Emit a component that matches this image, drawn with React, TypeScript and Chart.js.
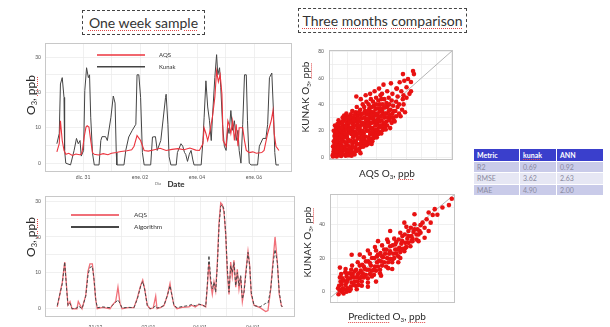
import React, { useEffect, useRef } from "react";
import { Chart, registerables } from "chart.js";
Chart.register(...registerables);

// ---------------- data ----------------
const weekTickHours = [0, 48, 96, 144];
const weekTickLabels = ["dic. 31", "ene. 02", "ene. 04", "ene. 06"];
const algoTickHours = [10, 54, 97, 141];
const algoTickLabels = ["31/12", "02/01", "04/01", "06/01"];
const o3Ticks = [0, 10, 20, 30];
const scatterTopTicks = [0, 20, 40, 60, 80];
const scatterBottomTicks = [0, 20, 40];
const identityLine = [-10, 100];

// one week sample: Kunak (black)
const kunakHours = [-22, -20, -19, -17.5, -16, -15.5, -14.5, -10.5, -7.5, -5.5, -4, -2.5, -1.5, 0.5, 1.5, 3, 4.5, 5.5, 6.5, 8, 9.5, 13.5, 15, 16, 19, 20.5, 23.5, 25.5, 27, 28, 28.5, 34.5, 36, 38.5, 41.5, 44.5, 45.5, 47, 48.5, 50, 51.5, 57, 58.5, 61, 62.5, 65.5, 69.5, 70, 71.5, 72.5, 74, 78.5, 79.5, 82.5, 84, 85.5, 86.5, 88, 89.5, 91, 92.5, 93.5, 99.5, 101, 102, 103.5, 105, 106.5, 108, 109, 111, 112.5, 113.5, 115, 116, 117.5, 119, 120.5, 122, 123, 124.5, 126, 127.5, 129, 130.5, 131.5, 133, 134.5, 136, 137.5, 138.5, 140, 141.5, 147, 148.5, 151.5, 154, 155.5, 157, 159, 160.5, 161.5, 162.5, 165];
const kunakO3 = [5.5, 8.4, 22.4, 24.2, 18.6, 3.6, 0, -0.5, 3.6, 7, 5.5, 6.4, 2, 3.6, 20.5, 27, 24.2, 25, 13, 2.8, -0.5, -0.5, 6.4, 7.5, 7.5, 6.4, 13, 19, 17, 3, -0.5, -0.5, 3.6, 7.4, 9.3, 11, 25, 25, 18.6, 3, -0.5, -0.5, 7.4, 7.5, 3.6, 6.4, 18.6, 19.5, 11, 1.8, -0.5, -0.5, 3, 5.5, 4.8, 3, 2.5, 0.5, 2.5, 3.6, 0.9, -0.5, -0.5, 6.4, 13, 23.3, 15.9, 12, 6.4, 13, 24.2, 30.7, 25, 27, 21.5, 11, 4.8, 3.6, 10, 8.4, 14.9, 9.3, 12, 6.4, 9.3, 3.6, 0, 11, 25, 25, 12, 0, -0.5, -0.5, 4.8, 7, 7, 11, 24.2, 25.5, 13.7, 3, -0.5, -0.5];

// one week sample: AQS (red)
const aqsWeekHours = [-22, -20, -19, -17.5, -16, -14.5, -12, -9, -6, -3, -1.5, -0.5, 1, 2.5, 3.5, 5, 6.5, 8, 9.5, 13, 17, 21, 24, 28, 32, 37, 41, 43, 45.5, 48.5, 51.5, 55, 60, 65, 70, 75, 80, 85, 90, 95, 98, 101, 102, 103.5, 105, 106.5, 109, 111, 112.5, 114, 115.5, 117, 118, 120.5, 122, 123, 124.5, 126, 127.5, 129, 130.5, 131.5, 134.5, 136, 137.5, 140, 143, 146, 150.5, 152.5, 155.5, 158.5, 160, 161, 162.5, 165];
const aqsWeekO3 = [3.2, 5.5, 12, 6.4, 3.6, 2.5, 2.8, 2.2, 2.6, 2.4, 2.5, 3.6, 7.4, 10.2, 10.6, 10.2, 6.4, 3, 2.5, 2.3, 2.7, 2.4, 2.8, 3.0, 3.3, 3.5, 3.8, 4.8, 7.8, 6.4, 3.6, 3.4, 3.8, 4.2, 3.6, 3.9, 4.1, 3.8, 4.3, 3.7, 3.6, 5.5, 10, 8.4, 6.4, 8.4, 13, 18.6, 26, 23, 25, 19.5, 6.4, 4.8, 12, 11, 8.4, 12, 6.4, 11, 4.8, 10, 10, 6.4, 3.6, 3, 3.2, 2.8, 3, 3.6, 8.4, 12, 14.9, 8.4, 4.8, 3.6];

// algorithm comparison (shared hours)
const algoHours = [-21.8, -17.6, -15.6, -13.9, -12.9, -11.2, -9.5, -5.4, -4.3, -1.2, 1.9, 3.8, 5.4, 7.4, 8.8, 10.2, 11.5, 16, 22.1, 24, 26.8, 28.7, 30.4, 32.1, 37, 42, 44.8, 47.6, 49.3, 50.9, 53.1, 55.4, 58, 60.1, 61.2, 64, 67, 69.8, 72, 73.1, 75.3, 77.8, 82, 87.8, 90, 93, 96, 99, 101.7, 103, 104.4, 105.9, 107.2, 108.6, 110, 111.4, 112.8, 114.2, 115.5, 116.9, 118.3, 119.7, 121.1, 122.5, 123.8, 125.2, 126.7, 128, 129.4, 130.8, 132.2, 133.6, 135, 136.9, 138.3, 139.6, 141.9, 146.9, 151.6, 153.5, 155.8, 157.9, 159.4, 161.3, 162.9, 164.6, 165.4];
const aqsAlgoO3 = [0.5, 7.4, 13, 5.5, 1, 2, 0, 0, 2, 0, 3.7, 10.5, 12.5, 12.5, 8, 2.5, 0, 0.4, 0, 1, 2, 6, 1.5, 0, 0.3, 0.3, 3, 6.5, 8, 5.5, 1, 0, 0.2, 3.5, 0, 0.3, 0.9, 3.7, 7, 4.6, 0.9, 0, 0.4, 0.5, 1, 0.5, 1.2, 1, 0.5, 6, 13, 7, 4, 7.5, 5, 13, 24, 29.5, 29, 27, 21, 10, 4, 13, 9, 13.5, 6, 11, 5.5, 9, 2, 5, 10, 16, 12, 4, 1, 0.3, -0.8, -0.5, 5.5, 14, 20, 13, 4, 1, 0.5];
const algorithmO3 = [0.9, 7, 13, 5, 0.9, 1.5, 0, 0.2, 0.8, 0, 3.5, 9.5, 11.5, 11.8, 8.2, 2.6, 0.3, 0.5, 0.3, 0.9, 1.8, 2.5, 1.5, 0.2, 0.4, 0.3, 2.7, 6.3, 7.6, 5.5, 0.9, 0, 0.3, 0.8, 0.2, 0.4, 0.9, 3.7, 6.4, 4.6, 0.9, 0.3, 0.6, 0.9, 1.2, 0.8, 1.3, 1, 0.6, 6.3, 14.8, 8.2, 5.5, 7.4, 4.6, 12, 23, 28.6, 29, 27.7, 21.2, 11.1, 4.6, 12, 10.1, 12.9, 6.4, 10.1, 6.4, 9.2, 2.7, 4.6, 9.2, 15.7, 12, 4.6, 0.9, 0.5, 1.5, 1.5, 5.5, 12.9, 16.5, 12.9, 4.6, 0.9, 0.5];

// three months comparison: [AQS O3, KUNAK O3]
const threeMonthAqsKunak: [number, number][] = [
  [0.5, 0.5], [1, 2], [0.8, 4], [1.2, 6], [0.5, 8], [1.5, 10], [1, 12], [2, 14], [1.5, 16], [2, 18], [1, 20], [2.5, 22], [1.8, 24], [2.2, 3], [2.5, 7], [0.3, 1.5],
  [3, 0.5], [3.5, 2.5], [4, 5], [3, 8], [4.5, 11], [3.5, 13], [4, 15.5], [5, 18], [3.8, 20], [4.5, 23], [5, 26], [4.2, 28], [5, 1.5], [5.5, 4], [3.2, 17], [4.8, 9],
  [6, 0.8], [6.5, 3], [7, 6], [6.2, 9], [7.5, 12], [6.8, 14.5], [7.2, 17], [6.5, 19.5], [7.8, 22], [6.8, 25], [7.5, 27.5], [7, 30], [8, 2], [8.3, 8], [8, 15], [8.2, 20], [6, 11.5], [8, 31.5],
  [9, 1], [10, 3.5], [9.5, 6], [10.5, 9], [9.2, 11], [10.8, 13], [9.8, 16], [11, 18.5], [9.5, 21], [10.5, 23.5], [9.8, 26], [11, 28.5], [10.2, 31], [9.5, 33], [11, 5], [10, 14.5], [11.5, 1.5],
  [12, 2.5], [13, 5], [12.5, 7.5], [13.5, 10], [12.2, 12.5], [14, 15], [12.8, 17.5], [13.5, 20], [12.5, 22.5], [14, 25], [13, 27.5], [13.8, 30], [12.5, 32.5], [13.5, 35], [14, 3], [12, 19], [14.5, 12],
  [15, 2], [16, 4.5], [15.5, 7], [16.5, 9.5], [15.2, 12], [17, 14], [16, 16.5], [15.5, 19], [16.8, 21.5], [15.5, 24], [17, 26.5], [16, 29], [17, 31.5], [15.8, 34], [16.5, 38], [16.2, 46], [17.5, 6], [15, 27],
  [18, 5], [19, 7.5], [18.5, 10], [19.5, 12.5], [18.2, 15], [20, 17], [19, 19.5], [18.5, 22], [19.8, 24.5], [18.5, 27], [20, 29.5], [19, 32], [18.8, 36], [20.5, 40], [19.2, 44], [20, 10], [18, 20.5],
  [21, 8], [22, 10.5], [21.5, 13], [22.5, 15.5], [21.2, 18], [23, 20], [22, 22.5], [21.5, 25], [22.8, 27.5], [21.8, 30], [23, 32.5], [22, 35], [21.5, 38], [23, 42], [22.5, 47], [23.5, 12], [21, 16],
  [24, 10], [25, 12.5], [24.5, 15], [25.5, 17.5], [24.2, 20], [26, 22], [25, 24.5], [24.5, 27], [25.8, 29.5], [24.8, 32], [26, 34.5], [25, 37], [24.5, 40], [26, 44], [25.5, 48], [26.5, 14], [24, 25],
  [27, 12], [28, 14.5], [27.5, 17], [28.5, 19.5], [27.2, 22], [29, 24], [28, 26.5], [27.5, 29], [28.8, 31.5], [27.8, 34], [29, 36.5], [28, 39], [27.5, 42], [29.5, 45], [28.5, 50], [29.5, 18], [27, 30.5],
  [30, 15], [31, 17.5], [30.5, 20], [31.5, 22.5], [30.2, 25], [32, 27], [31, 29.5], [30.5, 32], [31.8, 34.5], [30.8, 37], [32, 40], [31, 43], [32.5, 47], [31.5, 52], [32, 19], [30, 28],
  [33, 18], [34, 20.5], [33.5, 23], [34.5, 25.5], [33.2, 28], [35, 30], [34, 32.5], [33.5, 35], [34.8, 37.5], [34, 40], [35, 44], [33.5, 48], [34.5, 55], [35.5, 23],
  [36, 21], [37, 24], [36.5, 27], [37.5, 30], [36.2, 33], [38, 35], [37, 38], [36.5, 41], [38, 45], [37, 50], [38.5, 28],
  [39, 22], [40, 26], [39.5, 30], [40.5, 33], [39.2, 36], [41, 39], [40, 43], [40.5, 48], [39.5, 56], [41, 30],
  [42, 27], [43, 31], [42.5, 35], [44, 38], [43, 42], [45, 33], [44, 46], [43.5, 52], [45, 40],
  [46, 31], [47, 36], [48, 40], [47.5, 44], [46.5, 50], [48.5, 58], [49, 34], [50, 45], [47.6, 63],
  [52, 48], [53, 57], [54.4, 65.4], [55, 63], [51, 59.3], [45.4, 56.8], [43.2, 52], [50, 53], [48, 47], [53, 50],
  [2, 1], [3, 4.5], [2.5, 10], [3, 12], [2.8, 19], [3.5, 25], [4, 7], [5.5, 14], [5.2, 21], [6, 6.5], [6, 16], [6.5, 22.5], [7, 27],
  [8.5, 5], [8.8, 11], [9, 18], [9, 24], [9, 29], [10.5, 1.5], [11.5, 7], [11.5, 12], [11.5, 21], [11.5, 26], [12, 30], [13, 1],
  [14.5, 7.5], [14.5, 17.5], [14, 22], [14.5, 28], [15, 32], [16, 11], [17.5, 18], [17.5, 24], [17.5, 29], [18, 34], [19, 3],
  [20.5, 8], [20.5, 14], [20.5, 20], [20.5, 26], [20.5, 33], [21.5, 11], [23, 9], [23.5, 23], [23.5, 29], [24, 35],
  [26.5, 10], [26.5, 19], [26.5, 26], [26.5, 32], [26.5, 38], [29, 16], [29.5, 21], [29.5, 27], [29.5, 33], [29.5, 40],
  [32.5, 24], [32.5, 31], [32.5, 37], [33, 44], [35.5, 26], [35.5, 33], [36, 38], [38.5, 32], [38.5, 40], [41.5, 35], [41.5, 28],
];

// three months comparison: [Predicted O3, KUNAK O3]
const threeMonthPredKunak: [number, number][] = [
  [0.5, -1.5], [1, 1], [0.8, 3.5], [1.5, 6], [1.2, 8.5], [2, 0], [2, 4.5], [0.3, 2], [1.8, 10.5],
  [3, -1], [3.5, 1.5], [4, 4], [3.2, 6.5], [4.5, 9], [3.8, 11.5], [5, 2], [5, 7], [4, 13.5],
  [6, 0.5], [6.5, 3], [7, 5.5], [6.2, 8], [7.5, 10.5], [6.8, 13], [8, 4], [8, 8.5], [7.2, 15.5], [6, 11],
  [9, 3.5], [10, 6], [9.5, 8.5], [10.5, 11], [9.2, 13], [11, 15.5], [10, 17.5], [11, 8], [9.5, 1.5],
  [12, 6], [13, 8.5], [12.5, 11], [13.5, 13.5], [12.2, 16], [14, 18], [13, 20.5], [14, 10], [12, 3.5],
  [15, 8], [16, 10.5], [15.5, 13], [16.5, 15.5], [15.2, 18], [17, 20], [16, 22.5], [17, 12.5], [15, 24.5],
  [18, 10], [19, 12.5], [18.5, 15], [19.5, 17.5], [18.2, 20], [20, 22], [19, 24.5], [20, 15], [18.5, 26.5],
  [21, 13], [22, 15.5], [21.5, 18], [22.5, 20.5], [21.2, 23], [23, 25], [22, 27.5], [23, 17.5], [21.5, 9.5],
  [24, 15], [25, 17.5], [24.5, 20], [25.5, 22.5], [24.2, 25], [26, 27], [25, 29.5], [26, 19.5], [24.5, 31],
  [27, 17.5], [28, 20], [27.5, 22.5], [28.5, 25], [27.2, 27.5], [29, 29.5], [28, 31.5], [29, 22.5], [27, 13.5],
  [30, 21], [31, 23.5], [30.5, 26], [31.5, 28.5], [30.2, 31], [32, 33], [31, 35], [32, 25.5], [30, 17.5],
  [33, 24], [34, 26.5], [33.5, 29], [34.5, 31.5], [33.2, 34], [35, 36], [34, 38.5], [35, 29],
  [36, 27], [37, 30], [36.5, 33], [37.5, 35.5], [36.2, 38], [38, 40], [37, 31.5],
  [39, 31], [40, 34], [39.5, 37], [41, 39.5], [40.5, 36], [42, 41], [40, 30],
  [43, 38], [44, 43], [45, 47], [46, 41], [47, 45.5], [48, 49], [49.3, 45.7], [51.8, 50], [55, 51.4], [56.4, 55.2], [45, 36], [43, 32], [38, 46], [33, 41], [26, 36], [20, 30], [11, 22], [7, 21.9], [1.2, 14.3], [15, 3], [19, 6],
  [2.5, 2], [2.5, 8], [4.5, 0], [4.5, 5.5], [4.5, 11], [6.5, 1.5], [7, 10], [8.5, 6], [8.5, 12], [10, 10], [10.5, 4], [11.5, 12.5],
  [12, 9], [13, 15], [14.5, 13], [15, 5.5], [16, 17], [17, 9], [18, 13], [19.5, 21], [20.5, 18.5], [21, 11], [22, 21], [23.5, 22.5],
  [25, 14], [26, 24], [27.5, 19.5], [28.5, 28], [29.5, 25], [31, 20], [32, 30], [33.5, 26], [35, 33], [36.5, 30], [38, 37], [39, 34], [41, 35],
];

const metricHeader = ["Metric", "kunak", "ANN"];
const metricNames = ["R2", "RMSE", "MAE"];
const kunakMetrics = ["0.69", "3.62", "4.90"];
const annMetrics = ["0.92", "2.63", "2.00"];

// ---------------- helpers ----------------
Chart.defaults.font.family = "Lato, 'Liberation Sans', sans-serif";
const PAD = 6;
type Area = { l: number; t: number; r: number; b: number; yW: number; xH: number };

function canvasBox(a: Area) {
  return {
    left: a.l - a.yW - PAD,
    top: a.t - PAD,
    width: Math.round(a.r - a.l + a.yW + 2 * PAD),
    height: Math.round(a.b - a.t + a.xH + 2 * PAD),
  };
}

const boxPlugin = {
  id: "frameBox",
  afterDraw(chart: any, _a: any, opts: any) {
    const { ctx, chartArea: c } = chart;
    ctx.save();
    ctx.strokeStyle = (opts && opts.color) || "#c8c8c8";
    ctx.lineWidth = 1;
    ctx.strokeRect(Math.round(c.left) + 0.5, Math.round(c.top) + 0.5, Math.round(c.width) - 1, Math.round(c.height) - 1);
    ctx.restore();
  },
};

const legendPlugin = {
  id: "insetLegend",
  afterDraw(chart: any, _a: any, opts: any) {
    if (!opts || !opts.show) return;
    const { ctx, chartArea: c } = chart;
    const x0 = c.left + opts.x;
    ctx.save();
    chart.data.datasets.forEach((ds: any, i: number) => {
      const y = c.top + opts.y + i * opts.rowH;
      ctx.strokeStyle = ds.borderColor;
      ctx.lineWidth = opts.lineW;
      ctx.setLineDash([]);
      ctx.beginPath();
      ctx.moveTo(x0, y);
      ctx.lineTo(x0 + opts.len, y);
      ctx.stroke();
      ctx.fillStyle = "#333";
      ctx.font = `${opts.size}px Lato, sans-serif`;
      ctx.textBaseline = "middle";
      ctx.fillText(ds.label, x0 + opts.len + opts.gap, y);
    });
    ctx.restore();
  },
};

function withMinor(major: number[]) {
  const out: number[] = [];
  major.forEach((v, i) => {
    out.push(v);
    if (i < major.length - 1) out.push((v + major[i + 1]) / 2);
  });
  return out;
}

function linearAxis(opts: {
  min: number; max: number; major: number[]; labels?: string[]; size: number; pad: number;
  fit: (s: any) => void; showLabels?: boolean; gridVals?: number[];
}) {
  const gridVals = opts.gridVals || withMinor(opts.major);
  return {
    type: "linear",
    min: opts.min,
    max: opts.max,
    afterBuildTicks: (s: any) => { s.ticks = gridVals.map((v) => ({ value: v })); },
    afterFit: opts.fit,
    ticks: {
      display: opts.showLabels !== false,
      autoSkip: false,
      maxRotation: 0,
      minRotation: 0,
      padding: opts.pad,
      color: "#555",
      font: { size: opts.size },
      callback: (v: number) => {
        const k = opts.major.indexOf(v);
        if (k < 0) return "";
        return opts.labels ? opts.labels[k] : String(v);
      },
    },
    grid: { color: "#ececec", lineWidth: 0.8, drawTicks: false },
    border: { display: false },
  };
}

function ChartCanvas({ area, config }: { area: Area; config: () => any }) {
  const ref = useRef<HTMLCanvasElement>(null);
  const box = canvasBox(area);
  useEffect(() => {
    const cfg = config();
    cfg.options.layout = { padding: PAD };
    const chart = new Chart(ref.current as HTMLCanvasElement, cfg);
    return () => chart.destroy();
  }, []);
  return (
    <canvas
      ref={ref}
      width={box.width}
      height={box.height}
      style={{ position: "absolute", left: box.left, top: box.top, width: box.width, height: box.height }}
    />
  );
}

const baseOptions = () => ({
  responsive: false,
  maintainAspectRatio: false,
  animation: false,
  devicePixelRatio: 1,
  events: [],
  plugins: { legend: { display: false }, tooltip: { enabled: false } } as any,
  elements: { point: { radius: 0 }, line: { tension: 0 } },
});

// ---------------- chart configs ----------------
const weekArea: Area = { l: 45, t: 42, r: 292, b: 172, yW: 18, xH: 14 };
const algoArea: Area = { l: 45, t: 195, r: 295, b: 317, yW: 18, xH: 14 };
const scatTopArea: Area = { l: 329, t: 48, r: 453, b: 162, yW: 16, xH: 0 };
const scatBotArea: Area = { l: 330, t: 192, r: 455, b: 305, yW: 16, xH: 0 };

function weekConfig() {
  const o: any = baseOptions();
  o.scales = {
    x: linearAxis({ min: -32, max: 176, major: weekTickHours, labels: weekTickLabels, size: 5, pad: 2, fit: (s) => { s.height = weekArea.xH; } }),
    y: linearAxis({ min: -2.5, max: 34, major: o3Ticks, size: 5, pad: 4, fit: (s) => { s.width = weekArea.yW; } }),
  };
  o.plugins.frameBox = { color: "#c8c8c8" };
  o.plugins.insetLegend = { show: true, x: 52, y: 12, rowH: 11.7, len: 48, gap: 14, size: 6, lineW: 1.6 };
  return {
    type: "line",
    data: {
      datasets: [
        { label: "AQS", data: aqsWeekHours.map((h, i) => ({ x: h, y: aqsWeekO3[i] })), borderColor: "rgb(236,52,62)", borderWidth: 1.1, order: 0 },
        { label: "Kunak", data: kunakHours.map((h, i) => ({ x: h, y: kunakO3[i] })), borderColor: "#444444", borderWidth: 1, order: 1 },
      ],
    },
    options: o,
    plugins: [boxPlugin, legendPlugin],
  };
}

function algoConfig() {
  const o: any = baseOptions();
  o.scales = {
    x: linearAxis({ min: -32, max: 176, major: algoTickHours, labels: algoTickLabels, size: 5, pad: 7, fit: (s) => { s.height = algoArea.xH; } }),
    y: linearAxis({ min: -2.3, max: 31.4, major: o3Ticks, size: 5, pad: 4, fit: (s) => { s.width = algoArea.yW; } }),
  };
  o.plugins.frameBox = { color: "#c8c8c8" };
  o.plugins.insetLegend = { show: true, x: 26, y: 19, rowH: 12, len: 48, gap: 15, size: 6.5, lineW: 1.8 };
  return {
    type: "line",
    data: {
      datasets: [
        { label: "AQS", data: algoHours.map((h, i) => ({ x: h, y: aqsAlgoO3[i] })), borderColor: "rgba(238,95,105,0.9)", borderWidth: 1.3, order: 1 },
        { label: "Algorithm", data: algoHours.map((h, i) => ({ x: h, y: algorithmO3[i] })), borderColor: "#474747", borderWidth: 1, borderDash: [3, 2], order: 0 },
      ],
    },
    options: o,
    plugins: [boxPlugin, legendPlugin],
  };
}

function scatterConfig(area: Area, pairs: [number, number][], xr: [number, number], yr: [number, number], major: number[], grid: number[]) {
  const o: any = baseOptions();
  o.scales = {
    x: linearAxis({ min: xr[0], max: xr[1], major, size: 5, pad: 0, showLabels: false, gridVals: grid, fit: (s) => { s.height = area.xH; } }),
    y: linearAxis({ min: yr[0], max: yr[1], major, size: 5, pad: 5, gridVals: grid, fit: (s) => { s.width = area.yW; } }),
  };
  o.plugins.frameBox = { color: "#c4c4c4" };
  return {
    type: "scatter",
    data: {
      datasets: [
        { type: "line", label: "1:1", data: identityLine.map((v) => ({ x: v, y: v })), borderColor: "#b4b4b4", borderWidth: 1, pointRadius: 0, order: 1 },
        { type: "scatter", label: "obs", data: pairs.map(([x, y]) => ({ x, y })), backgroundColor: "rgb(232,18,18)", borderWidth: 0, pointRadius: 2.3, order: 0 },
      ],
    },
    options: o,
    plugins: [boxPlugin],
  };
}

// ---------------- text helpers ----------------
const squiggle: React.CSSProperties = {
  textDecorationLine: "underline",
  textDecorationStyle: "dotted",
  textDecorationColor: "rgb(225,70,70)",
  textDecorationThickness: "1px",
  textUnderlineOffset: "2px",
};

function Txt({ cx, cy, size, rot, bold, color, children }: any) {
  return (
    <div
      style={{
        position: "absolute",
        left: cx,
        top: cy,
        transform: `translate(-50%,-50%)${rot ? " rotate(-90deg)" : ""}`,
        whiteSpace: "nowrap",
        fontSize: size,
        fontWeight: bold ? 700 : 400,
        color: color || "#2a2a2a",
        lineHeight: 1,
      }}
    >
      {children}
    </div>
  );
}

const Sub = ({ children }: any) => <sub style={{ fontSize: "0.62em", verticalAlign: "-0.25em", lineHeight: 0 }}>{children}</sub>;

function DashedTitle({ left, top, width, height, words }: any) {
  return (
    <div
      style={{
        position: "absolute", left, top, width, height, boxSizing: "border-box",
        border: "1px dashed #444", display: "flex", alignItems: "center", justifyContent: "center",
        fontSize: 14, color: "#333", whiteSpace: "nowrap",
      }}
    >
      <span>
        {words.map((w: string, i: number) => (
          <React.Fragment key={i}>
            <span style={squiggle}>{w}</span>
            {i < words.length - 1 ? " " : ""}
          </React.Fragment>
        ))}
      </span>
    </div>
  );
}

function MetricTable() {
  const colW = [46, 37, 47];
  const rowBg = ["#c9cbe9", "#e6e7f4", "#c9cbe9"];
  const cell: React.CSSProperties = { border: "1px solid #fff", padding: "0 0 0 3px", textAlign: "left" };
  return (
    <table
      style={{
        position: "absolute", left: 473, top: 148, width: 130, borderCollapse: "collapse",
        fontSize: 7, tableLayout: "fixed", fontFamily: "Lato, sans-serif",
      }}
    >
      <colgroup>{colW.map((w, i) => <col key={i} style={{ width: w }} />)}</colgroup>
      <thead>
        <tr style={{ height: 13, background: "#3a3fcc", color: "#fff" }}>
          {metricHeader.map((h, i) => (
            <th key={i} style={{ ...cell, fontWeight: 700 }}>
              {h === "kunak" ? <span style={{ ...squiggle, textUnderlineOffset: "1px" }}>{h}</span> : h}
            </th>
          ))}
        </tr>
      </thead>
      <tbody>
        {metricNames.map((m, r) => (
          <tr key={m} style={{ height: 11.3, background: rowBg[r], color: "#8a8aa0" }}>
            <td style={cell}>{m}</td>
            <td style={cell}>{kunakMetrics[r]}</td>
            <td style={cell}>{annMetrics[r]}</td>
          </tr>
        ))}
      </tbody>
    </table>
  );
}

export default function App() {
  return (
    <div
      style={{
        position: "fixed", left: 0, top: 0, width: 610, height: 327, overflow: "hidden",
        background: "#fff", fontFamily: "Lato, 'Liberation Sans', sans-serif",
      }}
    >
      <DashedTitle left={82} top={10} width={123} height={25} words={["One", "week", "sample"]} />
      <DashedTitle left={298} top={8} width={169} height={25} words={["Three", "months", "comparison"]} />

      <ChartCanvas area={weekArea} config={weekConfig} />
      <ChartCanvas area={algoArea} config={algoConfig} />
      <ChartCanvas
        area={scatTopArea}
        config={() => scatterConfig(scatTopArea, threeMonthAqsKunak, [-2.2, 81.3], [-2.2, 81.3], scatterTopTicks, withMinor(scatterTopTicks))}
      />
      <ChartCanvas
        area={scatBotArea}
        config={() => scatterConfig(scatBotArea, threeMonthPredKunak, [-3.7, 58], [-6.7, 58], scatterBottomTicks, [0, 10, 20, 30, 40, 50])}
      />

      <Txt cx={31} cy={95} size={12} rot>O<Sub>3</Sub>, <span style={squiggle}>ppb</span></Txt>
      <Txt cx={31} cy={237} size={12} rot>O<Sub>3</Sub>, <span style={squiggle}>ppb</span></Txt>
      <Txt cx={158} cy={183.5} size={4} color="#666">Dia</Txt>
      <Txt cx={176} cy={184} size={8} bold>Date</Txt>

      <Txt cx={305} cy={97} size={10} rot>KUNAK O<Sub>3</Sub>, <span style={squiggle}>ppb</span></Txt>
      <Txt cx={387} cy={173} size={10}>AQS O<Sub>3</Sub>, <span style={squiggle}>ppb</span></Txt>
      <Txt cx={307} cy={242} size={10} rot>KUNAK O<Sub>3</Sub>, <span style={squiggle}>ppb</span></Txt>
      <Txt cx={387} cy={316} size={10}><span style={squiggle}>Predicted</span> O<Sub>3</Sub>, <span style={squiggle}>ppb</span></Txt>

      <MetricTable />
    </div>
  );
}
